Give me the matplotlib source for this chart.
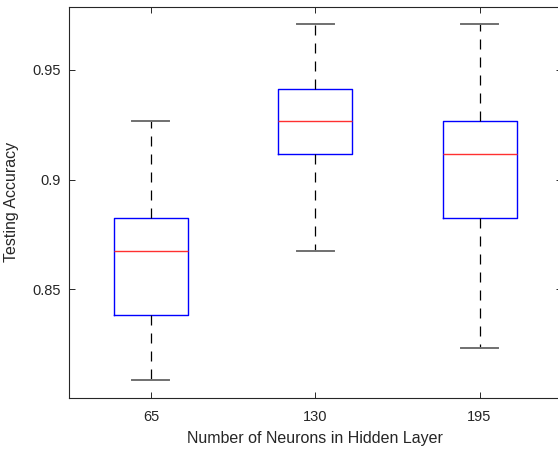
import matplotlib
matplotlib.use("Agg")
import matplotlib.pyplot as plt

# ── data (accuracy = k/68) ───────────────────────────────────────────────────
neurons   = ["65", "130", "195"]
whis_lo   = [55/68, 59/68, 56/68]
q1        = [57/68, 62/68, 60/68]
median    = [59/68, 63/68, 62/68]
q3        = [60/68, 64/68, 63/68]
whis_hi   = [63/68, 66/68, 66/68]

plt.rcParams["font.family"] = ["Liberation Sans", "DejaVu Sans"]
INK = "#262626"

stats = [dict(label=n, whislo=a, q1=b, med=c, q3=d, whishi=e, fliers=[])
         for n, a, b, c, d, e in zip(neurons, whis_lo, q1, median, q3, whis_hi)]

fig = plt.figure(figsize=(5.58, 4.49), dpi=100)
ax = fig.add_axes([68.8 / 558, 51.3 / 449, (561.7 - 68.8) / 558, (397.7 - 6.7) / 449])

ax.bxp(stats, positions=[1, 2, 3], widths=0.45, capwidths=0.225,
       showfliers=False,
       boxprops=dict(color="blue", lw=1.0),
       medianprops=dict(color="#ff3030", lw=1.0),
       whiskerprops=dict(color="black", lw=0.9, linestyle=(0, (8, 6.4))),
       capprops=dict(color="#707070", lw=1.4))

lo, hi = min(whis_lo), max(whis_hi)
pad = 0.05 * (hi - lo)
ax.set_ylim(lo - pad, hi + pad)
ax.set_xlim(0.5, 3.5)
ax.set_yticks([0.85, 0.9, 0.95])
ax.set_yticklabels(["0.85", "0.9", "0.95"])

ax.tick_params(direction="in", top=True, right=True, length=4, width=0.7,
               colors=INK, labelsize=10.5, pad=6)
ax.tick_params(axis="x", pad=9)
for s in ax.spines.values():
    s.set_color(INK)
    s.set_linewidth(0.8)

ax.set_xlabel("Number of Neurons in Hidden Layer", fontsize=11.5, color=INK, labelpad=5)
ax.set_ylabel("Testing Accuracy", fontsize=11.5, color=INK)
ax.yaxis.set_label_coords(-0.102, 0.5)

fig.savefig("out.png", dpi=100)
